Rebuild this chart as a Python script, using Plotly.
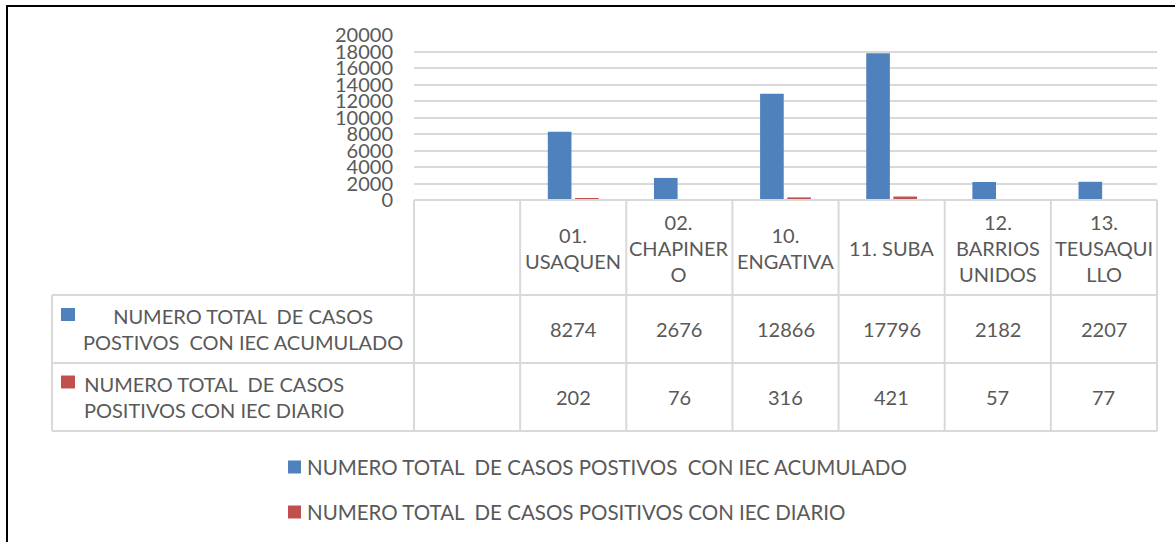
import plotly.graph_objects as go

# data
categories = ["01. USAQUEN", "02. CHAPINERO", "10. ENGATIVA", "11. SUBA",
              "12. BARRIOS UNIDOS", "13. TEUSAQUILLO"]
header_labels = ["01.<br>USAQUEN", "02.<br>CHAPINER<br>O", "10.<br>ENGATIVA",
                 "11. SUBA", "12.<br>BARRIOS<br>UNIDOS", "13.<br>TEUSAQUI<br>LLO"]
acumulado = [8274, 2676, 12866, 17796, 2182, 2207]
diario = [202, 76, 316, 421, 57, 77]
series_names = ["NUMERO TOTAL \u00a0DE CASOS POSTIVOS \u00a0CON IEC ACUMULADO",
                "NUMERO TOTAL \u00a0DE CASOS POSITIVOS CON IEC DIARIO"]
row_labels = ["NUMERO TOTAL \u00a0DE CASOS<br>POSTIVOS \u00a0CON IEC ACUMULADO",
              "NUMERO TOTAL \u00a0DE CASOS<br>POSITIVOS CON IEC DIARIO"]
colors = ["#4F81BD", "#C0504D"]

FONT = "Lato"
TXT = "#595959"
GRID = "#d9d9d9"

# plot area in pixels
L, R, T, B = 414, 1157, 35, 200
W, H = 1175, 542


def px_x(x):
    return (x - L) / (R - L)


def px_y(y):
    return (B - y) / (B - T)


fig = go.Figure()
for name, vals, c in zip(series_names, [acumulado, diario], colors):
    fig.add_trace(go.Bar(x=categories, y=vals, name=name, marker_color=c,
                         marker_line_width=0))

shapes = []
ann = []

# table grid
ncol = len(categories) + 1
col_w = (R - L) / ncol
row_y = [200, 295, 363, 431]
line = dict(color=GRID, width=2)
for k in range(ncol + 1):
    xx = px_x(L + k * col_w)
    shapes.append(dict(type="line", xref="paper", yref="paper", x0=xx, x1=xx,
                       y0=px_y(200), y1=px_y(431), line=line))
shapes.append(dict(type="line", xref="paper", yref="paper", x0=px_x(52), x1=px_x(52),
                   y0=px_y(295), y1=px_y(431), line=line))
shapes.append(dict(type="line", xref="paper", yref="paper", x0=0, x1=1,
                   y0=0, y1=0, line=line))
for yy in row_y[1:]:
    shapes.append(dict(type="line", xref="paper", yref="paper", x0=px_x(52), x1=1,
                       y0=px_y(yy), y1=px_y(yy), line=line))

# header row
for cat, lab in zip(categories, header_labels):
    ann.append(dict(x=cat, xref="x", y=px_y(247.5), yref="paper", text=lab,
                    showarrow=False, yanchor="middle", align="center",
                    font=dict(family=FONT, size=20, color=TXT)))

# value rows
for vals, yc in zip([acumulado, diario], [329, 397]):
    for cat, v in zip(categories, vals):
        ann.append(dict(x=cat, xref="x", y=px_y(yc), yref="paper", text=str(v),
                        showarrow=False, yanchor="middle",
                        font=dict(family=FONT, size=20, color=TXT)))

# row headers with keys
for lab, c, xc, yc, ky in zip(row_labels, colors, [243, 214], [329, 397], [314.5, 382]):
    ann.append(dict(x=px_x(xc), xref="paper", y=px_y(yc), yref="paper", text=lab,
                    showarrow=False, xanchor="center", yanchor="middle", align="center",
                    font=dict(family=FONT, size=20, color=TXT)))
    shapes.append(dict(type="rect", xref="paper", yref="paper", x0=px_x(61), x1=px_x(75),
                       y0=px_y(ky - 6.5), y1=px_y(ky + 6.5), fillcolor=c, line_width=0))

# bottom legend
for name, c, yc in zip(series_names, colors, [467, 512]):
    shapes.append(dict(type="rect", xref="paper", yref="paper", x0=px_x(288), x1=px_x(301),
                       y0=px_y(yc - 6.5), y1=px_y(yc + 6.5), fillcolor=c, line_width=0))
    ann.append(dict(x=px_x(305), xref="paper", y=px_y(yc), yref="paper", text=name,
                    showarrow=False, xanchor="left", yanchor="middle",
                    font=dict(family=FONT, size=20.5, color=TXT)))

# outer frame
shapes.append(dict(type="rect", xref="paper", yref="paper", x0=px_x(7), x1=px_x(1190),
                   y0=px_y(6), y1=px_y(560), line=dict(color="black", width=2),
                   fillcolor="rgba(0,0,0,0)"))

fig.update_layout(
    width=W, height=H,
    margin=dict(l=L, r=W - R, t=T, b=H - B, pad=0),
    paper_bgcolor="white", plot_bgcolor="white",
    barmode="group", bargap=0.488, bargroupgap=0.13,
    showlegend=False,
    shapes=shapes, annotations=ann,
    xaxis=dict(type="category", range=[-1.5, len(categories) - 0.5],
               showticklabels=False, showgrid=False, zeroline=False, showline=False),
    yaxis=dict(range=[0, 20000], dtick=2000, tickformat="d", gridcolor=GRID, gridwidth=1.5,
               zeroline=False, showline=False, ticklabelstandoff=20,
               tickfont=dict(family=FONT, size=20, color=TXT)),
)

fig.write_html("out.html", config={"displayModeBar": False},
               post_script="document.body.style.margin='0';")
